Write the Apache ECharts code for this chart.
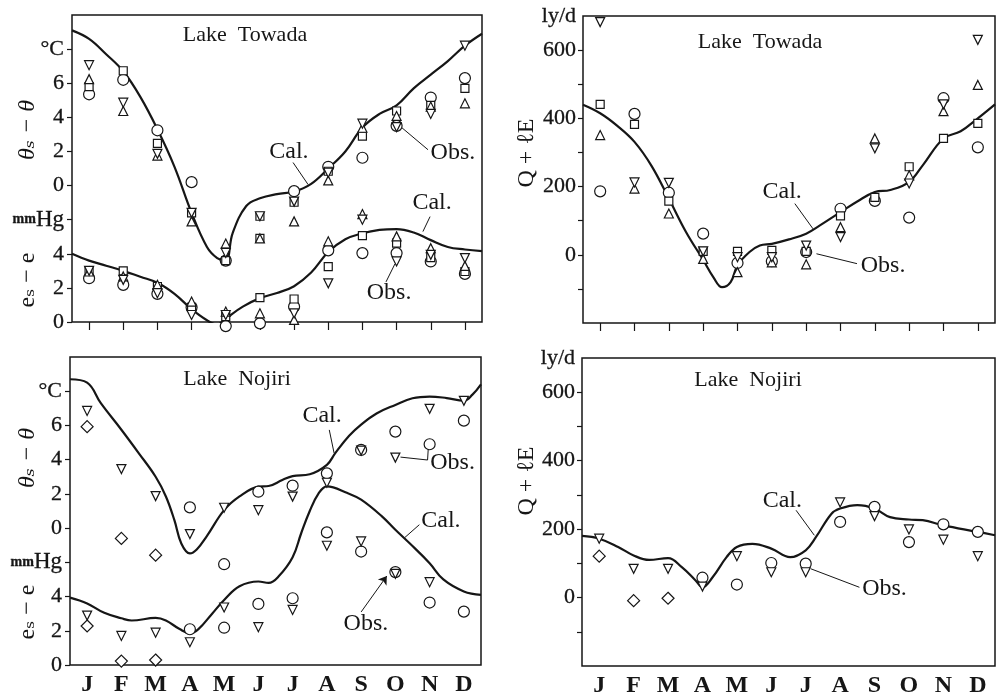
<!DOCTYPE html>
<html><head><meta charset="utf-8">
<script src="https://cdn.jsdelivr.net/npm/echarts@6/dist/echarts.min.js"></script>
<style>html,body{margin:0;padding:0;background:#fff}#c{width:999px;height:698px}</style>
</head><body><div id="c"></div>
<script>
// ---------- tick labels ----------
const months = ['J','F','M','A','M','J','J','A','S','O','N','D'];

// ---------- Lake Towada : θs − θ (°C) ----------
const towThCalX = [-0.5,0,0.5,1,1.5,2,2.5,3,3.45,3.75,4,4.2,4.6,5,5.5,6,6.5,7,7.5,8,8.5,9,9.5,10,10.5,11,11.5];
const towThCalY = [9.1,8.6,7.7,6.7,5.2,3.3,1.1,-1.6,-3.6,-4.25,-4.4,-2.8,-1.2,-0.75,-0.5,-0.35,0.1,1.0,2.0,3.4,4.2,4.7,5.7,6.5,7.3,8.2,8.9];
const towThCircle  = [5.35,6.2,3.24,0.2,-4.4,null,-0.33,1.1,1.63,3.5,5.16,6.3];
const towThSquare  = [5.8,6.73,2.47,-1.6,-4.4,-1.8,-0.98,0.84,2.9,4.37,4.7,5.7];
const towThSquare2 = [null,null,null,null,null,-3.1,null,null,null,null,null,null];
const towThUp      = [6.24,4.37,1.76,-2.1,-3.4,-3.1,-2.1,0.3,3.39,4.08,4.63,4.82];
const towThDown    = [7.06,4.86,1.86,-1.6,-3.95,-1.8,-0.94,0.75,3.63,3.43,4.2,8.2];

// ---------- Lake Towada : es − e (mmHg) ----------
const towEsCalX = [-0.5,0,0.5,1,1.5,2,2.5,3,3.45,3.75,4,4.5,5,5.5,6,6.5,7,7.5,8,8.5,9,9.5,10,10.5,11,11.5];
const towEsCalY = [4.0,3.6,3.3,3.0,2.65,2.3,1.65,0.75,0.1,-0.15,0.2,0.9,1.4,1.7,2.1,2.9,4.1,4.85,5.2,5.4,5.45,5.25,4.8,4.4,4.25,4.15];
const towEsCircle = [2.57,2.18,1.65,0.86,-0.24,-0.08,0.9,4.2,4.04,4.04,3.55,2.82];
const towEsSquare = [2.99,3.0,2.08,0.86,0.31,1.43,1.35,3.25,5.06,4.63,3.78,2.96];
const towEsUp     = [2.96,2.67,2.18,1.2,0.61,0.51,0.12,4.73,6.33,5.02,4.33,3.29];
const towEsDown   = [3.0,2.47,1.69,0.41,0.41,null,0.51,2.27,6.0,3.55,3.94,3.75];

// ---------- Lake Towada : Q + lE (ly/d) ----------
const towQCalX = [-0.5,0,0.5,1,1.5,2,2.5,3,3.3,3.55,3.8,4,4.35,4.65,5,5.5,6,6.4,7,7.5,8,8.45,9,9.4,10,10.5,11,11.5];
const towQCalY = [440,415,378,331,260,165,67,-15,-66,-95,-80,-31,8,27,32,45,62,86,125,157,184,190,214,263,341,362,400,441];
const towQCircle = [186,413,182,62,-24,-19,8,135,158,109,459,315];
const towQSquare = [441,382,157,10,10,13,10,114,168,258,341,385];
const towQUp     = [351,194,121,-12,-51,-22,-28,81,341,233,421,498];
const towQDown   = [682,212,211,10,-7,-7,27,52,312,209,441,630];

// ---------- Lake Nojiri : θs − θ (°C) ----------
const nojThCalX = [-0.5,0,0.4,1,1.5,2,2.3,2.55,2.75,3,3.2,3.5,4,4.45,5,5.3,5.7,6,6.5,7,7.25,7.65,8,8.45,9,9.5,10,10.5,11,11.25,11.5];
const nojThCalY = [8.7,8.5,7.3,5.75,4.4,3.0,1.85,0.45,-0.9,-1.48,-1.25,-0.45,1.05,1.85,2.42,2.46,2.81,3.04,3.15,3.7,4.4,5.4,6.05,6.7,7.2,7.59,7.69,7.6,7.45,7.8,8.4];
const nojThCircle  = [null,null,null,1.21,-2.11,2.13,2.48,3.2,4.57,5.64,4.9,6.28];
const nojThDown    = [6.85,3.45,1.87,-0.35,1.19,1.05,1.84,2.65,4.53,4.12,6.97,7.44];
const nojThDiamond = [5.93,-0.6,-1.58,null,null,null,null,null,null,null,null,null];

// ---------- Lake Nojiri : es − e (mmHg) ----------
const nojEsCalX = [-0.5,0,0.5,1,1.3,2,2.3,2.7,3,3.25,3.65,4,4.45,5,5.3,5.6,6,6.25,6.5,6.75,7,7.6,8,8.6,9,9.5,10,10.4,11,11.5];
const nojEsCalY = [3.94,3.6,3.05,2.73,2.6,2.75,2.6,2.1,1.86,2.1,3.0,3.8,4.6,4.88,4.8,5.2,6.3,7.7,9.0,10.0,10.44,10.05,9.66,8.7,7.9,6.95,5.95,5.0,4.3,4.1];
const nojEsCircle  = [null,null,null,2.09,2.18,3.57,3.9,7.75,6.63,5.43,3.65,3.12];
const nojEsDown    = [2.89,1.7,1.89,1.33,3.36,2.21,3.22,6.97,7.22,5.33,4.84,null];
const nojEsDiamond = [2.28,0.23,0.29,null,null,null,null,null,null,null,null,null];

// ---------- Lake Nojiri : Q + lE (ly/d) ----------
const nojQCalX = [-0.5,0,0.55,1,1.45,2,2.4,2.8,3,3.3,3.7,4,4.45,5,5.55,6,6.3,6.75,7,7.5,8,8.45,9,9.4,10,11,11.5];
const nojQCalY = [180,172,148,123,110,115,89,50,30,60,118,148,157,143,118,138,177,245,260,270,260,235,228,226,211,192,182];
const nojQCircle  = [null,null,null,58,38,101,99,221,265,162,214,192];
const nojQDown    = [172,84,84,32,121,74,74,278,238,199,169,121];
const nojQDiamond = [121,-9,-2,null,null,null,null,null,null,null,null,null];

// tick positions (without the frame corners)
const leftTicks  = [0,2,4,6,8,10,12,14,16];
const rightTicks = [-100,0,100,200,300,400,500,600];

// ================= chart =================
const FONT = '"Liberation Serif","DejaVu Serif",serif';
const INK = '#161616';
const chart = echarts.init(document.getElementById('c'), null, {renderer:'canvas'});

const grids = [
  {left:72, top:15, width:410, height:307},
  {left:583, top:16, width:412, height:307},
  {left:70, top:357, width:411, height:308},
  {left:582, top:358, width:413, height:308}
].map(g => Object.assign({show:true, borderColor:INK, borderWidth:1.5, backgroundColor:'transparent'}, g));

const xAxis = [];
grids.forEach((g, gi) => {
  const bottomRow = gi >= 2;
  xAxis.push({type:'category', gridIndex:gi, position:'bottom', data: months.map((m,i)=>String(i)), boundaryGap:true,
    axisLine:{show:false, onZero:false},
    axisTick:{show:!bottomRow, alignWithLabel:true, length:8, lineStyle:{color:INK, width:1.2}},
    axisLabel:{show:bottomRow, interval:0, formatter: v => months[+v], fontFamily:FONT, fontSize:24, fontWeight:'bold', color:INK, margin:8},
    splitLine:{show:false}});
  xAxis.push({type:'value', gridIndex:gi, position:'bottom', min:-0.5, max:11.5, show:false, axisLine:{onZero:false}});
});

const lab = {fontFamily:FONT, fontSize:22, color:INK, textBorderColor:INK, textBorderWidth:0.3};
function leftAxes(gi) {
  return [
    {type:'value', gridIndex:gi, position:'left', min:0, max:18, interval:2,
      axisLine:{show:false, onZero:false}, splitLine:{show:false},
      axisTick:{show:true, length:5, customValues:leftTicks, lineStyle:{color:INK, width:1.2}},
      axisLabel:Object.assign({margin:8, showMaxLabel:true, showMinLabel:true,
        formatter: v => v <= 4 ? String(v) : (v === 6 ? '{a|mm}{b|Hg}' : ''),
        rich:{a:{fontFamily:FONT, fontSize:14, fontWeight:'bold', color:INK}, b:{fontFamily:FONT, fontSize:23, color:INK}}}, lab)},
    {type:'value', gridIndex:gi, position:'left', min:-8, max:10, interval:2,
      axisLine:{show:false, onZero:false}, splitLine:{show:false}, axisTick:{show:false},
      axisLabel:Object.assign({margin:8, showMaxLabel:true, showMinLabel:true,
        formatter: v => (v >= 0 && v <= 6) ? String(v) : (v === 8 ? '°C' : '')}, lab)}
  ];
}
function rightAxis(gi) {
  return {type:'value', gridIndex:gi, position:'left', min:-200, max:700, interval:100,
    axisLine:{show:false, onZero:false}, splitLine:{show:false},
    axisTick:{show:true, length:5, customValues:rightTicks, lineStyle:{color:INK, width:1.2}},
    axisLabel:Object.assign({margin:7, showMaxLabel:true, showMinLabel:true,
      formatter: v => (v >= 0 && v <= 600 && v % 200 === 0) ? String(v) : (v === 700 ? 'ly/d' : '')}, lab)};
}
// yAxis: 0 e(TW) 1 θ(TW) 2 Q(TW) 3 e(NJ) 4 θ(NJ) 5 Q(NJ)
const yAxis = [...leftAxes(0), rightAxis(1), ...leftAxes(2), rightAxis(3)];

const series = [];
function calLine(xs, ys, xi, yi) {
  series.push({type:'line', xAxisIndex:xi, yAxisIndex:yi, data: xs.map((x,i)=>[x, ys[i]]),
    smooth:0.4, symbol:'none', lineStyle:{color:INK, width:2.2}, z:3, silent:true, animation:false});
}
const KIND = {
  circle:{symbol:'circle', size:11, rot:0},
  square:{symbol:'rect', size:8, rot:0},
  up:{symbol:'triangle', size:9, rot:0},
  down:{symbol:'triangle', size:9, rot:180},
  diamond:{symbol:'diamond', size:12, rot:0}
};
function obs(vals, kind, xi, yi) {
  const k = KIND[kind];
  series.push({type:'scatter', xAxisIndex:xi, yAxisIndex:yi, clip:false,
    data: vals.map((v,i)=> v == null ? null : [i, v]).filter(Boolean),
    symbol:k.symbol, symbolSize:k.size, symbolRotate:k.rot,
    itemStyle:{color:'#fff', borderColor:INK, borderWidth:1.2, opacity:1}, z:5, silent:true, animation:false});
}
function note(text, at, leaders, xi, yi) {
  series.push({type:'scatter', xAxisIndex:xi, yAxisIndex:yi, clip:false, data:[[at[0], at[1]]],
    symbolSize:1, itemStyle:{color:'rgba(255,255,255,0)', opacity:1}, silent:true, animation:false, z:6,
    label:{show:true, position:'inside', formatter:text, fontFamily:FONT, fontSize:24, color:INK, opacity:1, textBorderWidth:0},
    markLine:{silent:true, animation:false, symbol:'none', label:{show:false},
      lineStyle:{color:INK, width:1, type:'solid', opacity:1},
      data: leaders.map(l => [{coord:l[0], symbol:'none'}, {coord:l[1], symbol: l[2] ? 'arrow' : 'none', symbolSize:8}])}});
}

// Top-left: Lake Towada θ & e   (x:1, e-axis 0, θ-axis 1)
calLine(towThCalX, towThCalY, 1, 1);
calLine(towEsCalX, towEsCalY, 1, 0);
obs(towThCircle,'circle',1,1); obs(towThSquare,'square',1,1); obs(towThSquare2,'square',1,1);
obs(towThUp,'up',1,1); obs(towThDown,'down',1,1);
obs(towEsCircle,'circle',1,0); obs(towEsSquare,'square',1,0); obs(towEsUp,'up',1,0); obs(towEsDown,'down',1,0);
note('Cal.', [5.85, 2.0], [[[5.97,1.35],[6.41,0.06]]], 1, 1);
note('Obs.', [10.65, 1.94], [[[9.92,2.1],[9.15,3.4]]], 1, 1);
note('Cal.', [10.04, 7.0], [[[9.98,6.18],[9.77,5.3]]], 1, 0);
note('Obs.', [8.78, 1.7], [[[8.69,2.35],[8.95,3.4]]], 1, 0);

// Top-right: Lake Towada Q  (x:3, y:2)
calLine(towQCalX, towQCalY, 3, 2);
obs(towQCircle,'circle',3,2); obs(towQSquare,'square',3,2); obs(towQUp,'up',3,2); obs(towQDown,'down',3,2);
note('Cal.', [5.3, 185], [[[5.67,150],[6.2,76]]], 3, 2);
note('Obs.', [8.24, -32], [[[7.48,-26],[6.3,3]]], 3, 2);

// Bottom-left: Lake Nojiri θ & e (x:5, e-axis 3, θ-axis 4)
calLine(nojThCalX, nojThCalY, 5, 4);
calLine(nojEsCalX, nojEsCalY, 5, 3);
obs(nojThCircle,'circle',5,4); obs(nojThDown,'down',5,4); obs(nojThDiamond,'diamond',5,4);
obs(nojEsCircle,'circle',5,3); obs(nojEsDown,'down',5,3); obs(nojEsDiamond,'diamond',5,3);
note('Cal.', [6.86, 6.56], [[[7.07,5.74],[7.21,4.39]]], 5, 4);
note('Obs.', [10.67, 3.8], [[[9.94,3.98],[9.96,4.65]], [[9.94,3.98],[9.15,4.15]]], 5, 4);
note('Cal.', [10.33, 8.43], [[[9.7,8.2],[9.27,7.44]]], 5, 3);
note('Obs.', [8.14, 2.4], [[[8.0,3.1],[8.75,5.2],true]], 5, 3);

// Bottom-right: Lake Nojiri Q (x:7, y:5)
calLine(nojQCalX, nojQCalY, 7, 5);
obs(nojQCircle,'circle',7,5); obs(nojQDown,'down',7,5); obs(nojQDiamond,'diamond',7,5);
note('Cal.', [5.32, 282], [[[5.72,255],[6.25,182]]], 7, 5);
note('Obs.', [8.29, 26], [[[7.56,30],[6.15,84]]], 7, 5);

// text-only decorations
function txt(t, x, y, size, extra) {
  return Object.assign({type:'text', x:x, y:y, silent:true,
    style:Object.assign({text:t, fontFamily:FONT, fontSize:size, fill:INK, align:'center', verticalAlign:'middle'}, extra && extra.style || {})},
    extra && extra.el || {});
}
const R = {el:{rotation:Math.PI/2}};
const graphic = [
  txt('Lake  Towada', 245, 35, 22),
  txt('Lake  Towada', 760, 42, 22),
  txt('Lake  Nojiri', 237, 379, 22),
  txt('Lake  Nojiri', 748, 380, 22),
  txt('θₛ − θ', 28, 130, 24, {el:{rotation:Math.PI/2}, style:{fontStyle:'italic'}}),
  txt('eₛ − e', 28, 280, 24, R),
  txt('θₛ − θ', 28, 458, 24, {el:{rotation:Math.PI/2}, style:{fontStyle:'italic'}}),
  txt('eₛ − e', 28, 612, 24, R),
  txt('Q + ℓE', 527, 153, 24, R),
  txt('Q + ℓE', 527, 481, 24, R)
];

chart.setOption({animation:false, backgroundColor:'#fff', grid:grids, xAxis:xAxis, yAxis:yAxis, series:series, graphic:graphic});
</script>
</body></html>
